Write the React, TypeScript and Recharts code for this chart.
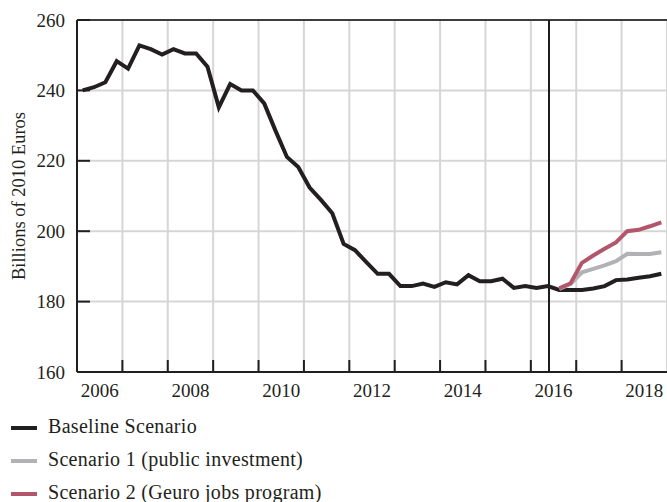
import React from 'react';
import { LineChart, Line, XAxis, YAxis, CartesianGrid, ReferenceLine } from 'recharts';

// Quarterly series, first point is the middle of 2006 Q1
const firstQuarter = 2006.125;
const quarterStep = 0.25;

const baseline = [
  240.0, 240.9, 242.3, 248.3, 246.2, 252.8, 251.7, 250.2, 251.7, 250.5,
  250.5, 246.7, 235.2, 241.8, 240.0, 240.0, 236.3, 228.5, 221.1, 218.2,
  212.4, 208.9, 205.1, 196.4, 194.6, 191.2, 187.9, 187.9, 184.4, 184.4,
  185.1, 184.2, 185.5, 184.9, 187.5, 185.8, 185.8, 186.5, 183.9, 184.4,
  183.9, 184.4, 183.3, 183.3, 183.3, 183.7, 184.4, 186.1, 186.3, 186.8,
  187.2, 187.9,
];

// Scenarios start at quarter index 42
const scenarioStartIndex = 42;
const scenario1 = [183.6, 185.0, 188.3, 189.3, 190.3, 191.5, 193.6, 193.5, 193.5, 194.0];
const scenario2 = [183.8, 185.2, 191.0, 193.1, 195.0, 196.8, 200.0, 200.4, 201.4, 202.5];

const yTicks = [160, 180, 200, 220, 240, 260];
const gridYears = [2007, 2008, 2009, 2010, 2011, 2012, 2013, 2014, 2015, 2016, 2017, 2018, 2019];
const labelYears = [2006, 2008, 2010, 2012, 2014, 2016, 2018];
const forecastStart = 2016.4;

const series = [
  { key: 'baseline', name: 'Baseline Scenario', color: '#231f20' },
  { key: 's1', name: 'Scenario 1 (public investment)', color: '#b2b2b5' },
  { key: 's2', name: 'Scenario 2 (Geuro jobs program)', color: '#b3566b' },
];

const rows = baseline.map((b, i) => ({
  t: firstQuarter + i * quarterStep,
  baseline: b,
  s1: i >= scenarioStartIndex ? scenario1[i - scenarioStartIndex] : null,
  s2: i >= scenarioStartIndex ? scenario2[i - scenarioStartIndex] : null,
}));

const xTicks = [
  ...gridYears.filter((y) => y < 2019),
  ...labelYears.map((y) => y + 0.5),
].sort((a, b) => a - b);

const FONT = '"Liberation Serif", "DejaVu Serif", serif';
const INK = '#231f20';
const GRID = '#d6d6d6';

const XTick = (props: any) => {
  const { x, y, payload } = props;
  const v = payload.value;
  if (Number.isInteger(v)) {
    return <line x1={x} x2={x} y1={y} y2={y - 12} stroke={INK} strokeWidth={2} />;
  }
  return (
    <text x={x} y={y + 25} textAnchor="middle" fontFamily={FONT} fontSize={19} fill={INK}>
      {Math.floor(v)}
    </text>
  );
};

const YTick = (props: any) => {
  const { x, y, payload } = props;
  return (
    <g>
      <line x1={x} x2={x + 13} y1={y} y2={y} stroke={INK} strokeWidth={2} />
      <text x={x - 12} y={y} dy={6.5} textAnchor="end" fontFamily={FONT} fontSize={19} fill={INK}>
        {payload.value}
      </text>
    </g>
  );
};

const YLabel = (props: any) => {
  const vb = props.viewBox || { x: 0, y: 20, width: 77, height: 352 };
  const cx = vb.x + 18.5;
  const cy = vb.y + vb.height / 2;
  return (
    <text
      x={cx}
      y={cy}
      transform={`rotate(-90 ${cx} ${cy})`}
      textAnchor="middle"
      dominantBaseline="central"
      fontFamily={FONT}
      fontSize={18.5}
      fill={INK}
    >
      Billions of 2010 Euros
    </text>
  );
};

export default function App() {
  return (
    <div
      style={{
        position: 'absolute',
        left: 0,
        top: 0,
        width: 667,
        height: 502,
        background: '#fff',
        overflow: 'hidden',
        fontFamily: FONT,
      }}
    >
      <LineChart width={667} height={410} data={rows} margin={{ top: 20, right: 0, left: 0, bottom: 0 }}>
        <CartesianGrid stroke={GRID} strokeWidth={2} vertical={false} />
        {gridYears.map((yr) => (
          <ReferenceLine key={`g${yr}`} x={yr} stroke={GRID} strokeWidth={2} ifOverflow="extendDomain" />
        ))}
        <XAxis
          dataKey="t"
          type="number"
          domain={[2006, 2019]}
          ticks={xTicks}
          interval={0}
          height={38}
          tickSize={0}
          tickMargin={0}
          tickLine={false}
          tick={<XTick />}
          axisLine={{ stroke: INK, strokeWidth: 2 }}
        />
        <YAxis
          type="number"
          domain={[160, 260]}
          ticks={yTicks}
          interval={0}
          width={77}
          tickSize={0}
          tickMargin={0}
          tickLine={false}
          tick={<YTick />}
          axisLine={{ stroke: INK, strokeWidth: 2 }}
          label={<YLabel />}
        />
        <ReferenceLine y={260} stroke="#3d3d3d" strokeWidth={2} />
        <ReferenceLine x={forecastStart} stroke="#1c1c1c" strokeWidth={2} />
        {series.map((s) => (
          <Line
            key={s.key}
            dataKey={s.key}
            name={s.name}
            type="linear"
            stroke={s.color}
            strokeWidth={4}
            dot={false}
            activeDot={false}
            connectNulls={false}
            isAnimationActive={false}
          />
        ))}
      </LineChart>
      <div style={{ position: 'absolute', left: 0, top: 411, width: 667 }}>
        {series.map((s) => (
          <div key={s.key} style={{ position: 'relative', height: 33 }}>
            <div
              style={{
                position: 'absolute',
                left: 11,
                top: 15,
                width: 26,
                height: 4,
                background: s.color,
              }}
            />
            <div
              style={{
                position: 'absolute',
                left: 48,
                top: 3,
                fontSize: 20,
                letterSpacing: '0.3px',
                lineHeight: '24px',
                color: INK,
                whiteSpace: 'nowrap',
              }}
            >
              {s.name}
            </div>
          </div>
        ))}
      </div>
    </div>
  );
}
